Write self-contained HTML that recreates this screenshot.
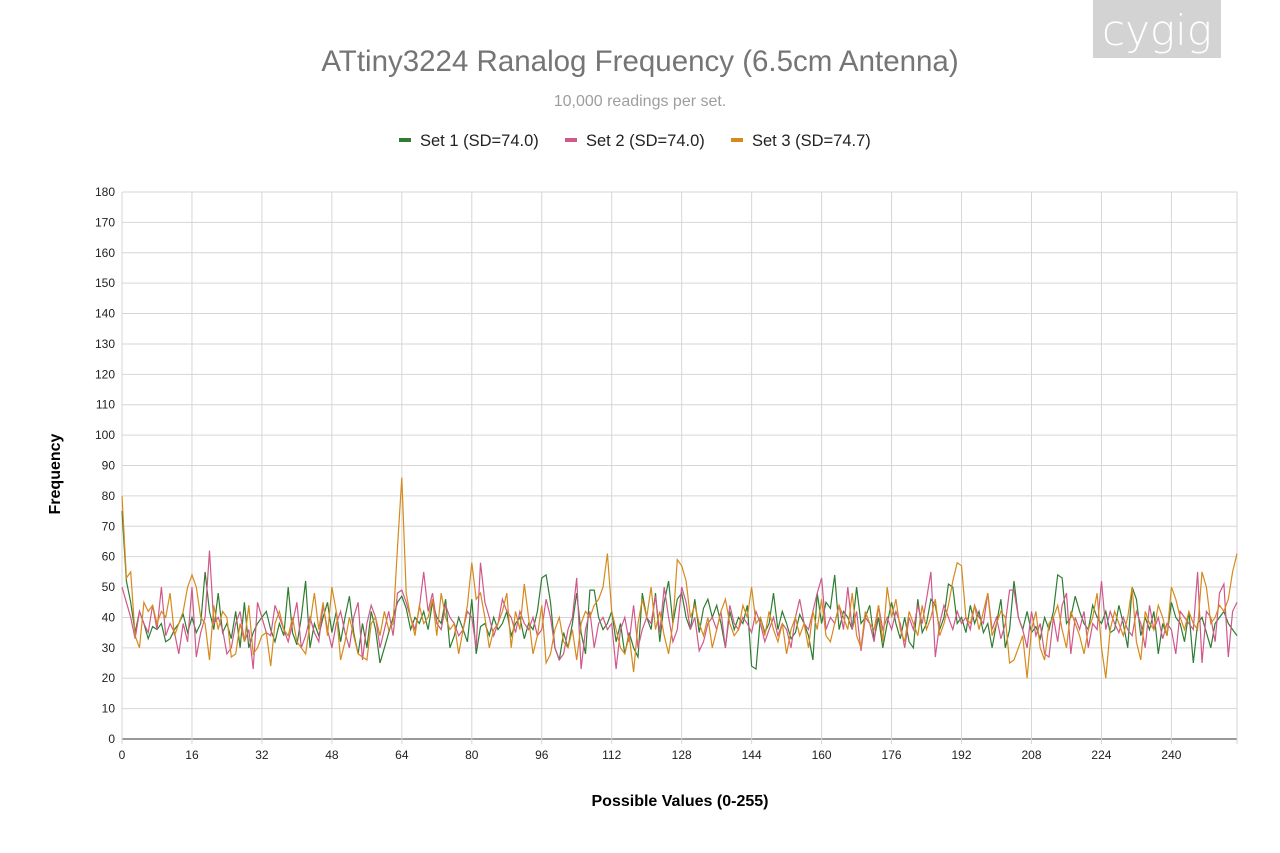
<!DOCTYPE html>
<html><head><meta charset="utf-8"><style>
body{margin:0;background:#fff;font-family:"Liberation Sans",sans-serif;}
#wrap{position:relative;width:1280px;height:853px;overflow:hidden;}
</style></head><body>
<div id="wrap">
<svg id="chart" width="1280" height="853">
<rect x="1093" y="0" width="128" height="58" fill="#d3d3d3"/>
<text x="1157" y="45" text-anchor="middle" font-size="42" fill="#fff" font-family="DejaVu Sans, sans-serif" font-weight="200">cygig</text>
<text x="640" y="71" text-anchor="middle" font-size="29.5" fill="#757575">ATtiny3224 Ranalog Frequency (6.5cm Antenna)</text>
<text x="640" y="106" text-anchor="middle" font-size="16" fill="#9e9e9e">10,000 readings per set.</text>
<g id="legend"></g>
<g id="grid"></g><g id="lines"></g><g id="axes"></g>
<text x="680" y="806" text-anchor="middle" font-size="16" font-weight="bold" fill="#000">Possible Values (0-255)</text>
<text x="60" y="474" text-anchor="middle" font-size="16" font-weight="bold" fill="#000" transform="rotate(-90 60 474)">Frequency</text>
</svg>
</div>
<script>
const seriesNames=["Set 1 (SD=74.0)","Set 2 (SD=74.0)","Set 3 (SD=74.7)"];
const seriesColors=["#2e7d32","#d0588a","#d68a1c"];
const xTicks=[0,16,32,48,64,80,96,112,128,144,160,176,192,208,224,240];
const yTicks=[0,10,20,30,40,50,60,70,80,90,100,110,120,130,140,150,160,170,180];
const set1=[75,52,45,35,42,38,33,37,36,38,32,33,36,38,41,35,
40,35,38,55,42,36,48,35,38,33,42,30,45,30,35,38,
40,42,36,32,38,34,50,35,31,40,52,30,38,34,40,45,
35,42,32,40,47,35,28,38,30,42,36,25,30,35,40,45,
47,43,36,40,38,42,36,45,40,38,46,30,34,40,36,32,
46,28,37,38,34,40,36,38,42,34,38,40,33,38,36,42,
53,54,45,30,26,35,30,38,48,35,28,49,49,40,36,38,
42,32,38,28,35,30,27,48,40,36,48,32,45,52,38,46,
48,40,36,46,35,43,46,40,44,38,30,42,36,40,38,44,
24,23,40,35,38,48,36,42,38,33,35,41,38,34,26,48,
38,45,43,54,36,42,40,36,50,38,40,44,33,40,30,38,
45,38,33,40,32,30,46,35,38,46,44,36,40,51,50,38,
40,35,44,38,42,35,38,30,38,46,30,36,52,40,36,42,
35,37,33,40,36,42,54,53,38,40,47,42,38,36,44,40,
38,42,35,36,44,38,30,50,46,34,40,36,42,28,38,34,
45,40,38,32,42,25,38,40,35,30,38,40,42,38,36,34];
const set2=[50,45,40,33,42,38,35,44,36,50,34,38,35,28,38,32,
50,27,35,40,62,38,40,36,28,30,38,42,32,36,23,45,
40,35,34,44,40,36,32,38,45,30,34,40,35,32,44,36,
30,38,42,35,30,40,45,26,38,44,40,30,36,42,34,48,
49,45,40,36,43,55,42,48,38,36,44,40,38,34,36,42,
40,30,58,45,40,34,38,46,42,40,35,42,38,36,40,34,
36,46,40,30,26,28,36,40,53,23,36,42,30,38,40,36,
38,23,36,40,32,44,30,36,40,38,47,35,50,40,32,36,
50,45,36,40,29,32,38,40,36,42,30,44,38,36,40,38,
35,42,38,32,36,40,34,38,36,30,40,46,38,36,42,48,
53,36,40,38,44,36,50,36,42,29,40,38,32,44,36,40,
36,42,38,30,40,36,44,38,46,55,27,38,44,40,36,42,
38,40,36,44,40,38,48,36,40,33,38,49,49,40,36,30,
42,34,38,28,27,40,32,44,48,28,40,36,42,30,38,36,
52,36,42,38,35,40,36,34,42,38,30,44,36,40,33,38,
36,28,42,40,38,36,55,25,42,40,32,48,51,27,42,45];
const set3=[80,53,55,34,30,45,42,44,38,42,40,48,34,38,42,50,
54,50,40,38,26,44,36,42,40,27,28,38,32,44,28,30,
34,35,24,38,42,36,34,40,32,30,28,38,48,36,45,34,
50,42,26,32,40,34,28,27,26,38,40,34,42,36,38,63,
86,48,40,34,44,38,40,46,34,48,40,36,38,28,36,44,
58,46,48,40,30,36,38,42,48,30,42,36,51,40,28,34,
44,25,28,36,40,32,30,36,26,38,42,40,44,46,50,61,
42,36,30,28,34,22,38,46,40,50,36,42,34,28,38,59,
57,52,40,44,38,34,40,30,36,42,46,38,34,36,44,40,
50,38,40,34,42,36,32,38,28,36,40,34,38,30,42,36,
46,34,32,38,44,40,36,48,34,30,42,38,36,44,32,50,
40,46,36,32,42,38,34,44,36,40,46,34,38,44,52,58,
57,40,38,44,36,42,48,34,38,42,40,25,26,30,34,20,
36,42,30,26,38,40,44,36,30,42,38,34,28,36,40,48,
30,20,36,42,38,34,40,50,32,26,42,38,36,44,40,34,
50,46,40,36,42,38,36,55,50,38,40,44,42,46,55,61];

const NS="http://www.w3.org/2000/svg";
const X0=122,X1=1237,Y0=739,Y1=192,XMAX=255,YMAX=180;
const xs=v=>X0+(X1-X0)*v/XMAX, ys=v=>Y0-(Y0-Y1)*v/YMAX;
function mk(tag,attrs,parent){const e=document.createElementNS(NS,tag);for(const k in attrs)e.setAttribute(k,attrs[k]);parent.appendChild(e);return e;}
const grid=document.getElementById('grid'),axes=document.getElementById('axes'),lines=document.getElementById('lines'),legend=document.getElementById('legend');
yTicks.forEach(t=>{
  const l=mk('line',{x1:X0,x2:X1,y1:ys(t),y2:ys(t),stroke:t===0?'#333':'#d6d6d6','stroke-width':1},grid);
  
  
  const tx=mk('text',{x:X0-7,y:ys(t)+4,'text-anchor':'end','font-size':12,fill:'#222'},axes);
  tx.textContent=t;
  
  
});
xTicks.concat([XMAX]).forEach((t,i)=>{
  const l=mk('line',{x1:xs(t),x2:xs(t),y1:Y1,y2:Y0+5,stroke:'#d6d6d6','stroke-width':1},grid);
  
  
});
xTicks.forEach(t=>{
  const tx=mk('text',{x:xs(t),y:Y0+20,'text-anchor':'middle','font-size':12,fill:'#222'},axes);
  tx.textContent=t;
  
  
});
[set1,set2,set3].forEach((s,si)=>{
  const p=mk('polyline',{points:s.map((v,i)=>xs(i).toFixed(1)+','+ys(v).toFixed(1)).join(' '),fill:'none',stroke:seriesColors[si],'stroke-width':1.2},lines);
  
  
});
const lx=[399,565,731];
seriesNames.forEach((n,i)=>{
  const g=mk('g',{},legend);
  
  
  mk('rect',{x:lx[i],y:138,width:12,height:4,fill:seriesColors[i]},g);
  const t=mk('text',{x:lx[i]+21,y:146,'font-size':16.5,fill:'#222'},g);
  t.textContent=n;
});
</script>
</body></html>
